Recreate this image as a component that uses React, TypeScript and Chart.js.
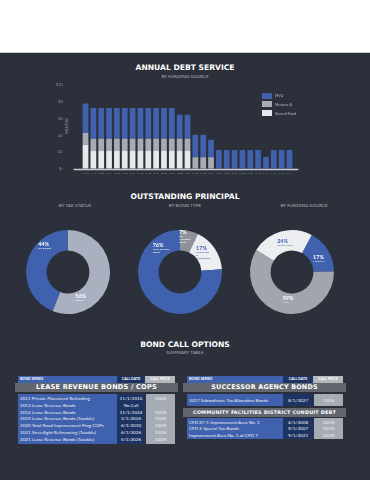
import React, { useEffect, useRef } from "react";
import { Chart, registerables } from "chart.js";

Chart.register(...registerables);

// ---------- DATA ----------
const fiscalYears = [
  "FY18", "FY19", "FY20", "FY21", "FY22", "FY23", "FY24", "FY25", "FY26",
  "FY27", "FY28", "FY29", "FY30", "FY31", "FY32", "FY33", "FY34", "FY35",
  "FY36", "FY37", "FY38", "FY39", "FY40", "FY41", "FY42", "FY43", "FY44",
];
const generalFund = [
  2.9, 2.15, 2.15, 2.15, 2.15, 2.15, 2.15, 2.15, 2.15, 2.15, 2.15, 2.15, 2.15, 2.15,
  0, 0, 0, 0, 0, 0, 0, 0, 0, 0, 0, 0, 0,
];
const measureA = [
  1.4, 1.45, 1.45, 1.45, 1.45, 1.45, 1.45, 1.45, 1.45, 1.45, 1.45, 1.45, 1.45, 1.45,
  1.4, 1.4, 1.4, 0, 0, 0, 0, 0, 0, 0, 0, 0, 0,
];
const mvu = [
  3.5, 3.65, 3.65, 3.65, 3.65, 3.65, 3.65, 3.65, 3.65, 3.65, 3.65, 3.65, 2.85, 2.85,
  2.68, 2.68, 2.08, 2.25, 2.25, 2.25, 2.25, 2.25, 2.25, 1.43, 2.25, 2.25, 2.25,
];
const seriesNames = ["MVU", "Measure A", "General Fund"];
const yTickLabels = ["$-", "$2", "$4", "$6", "$8", "$10"];

const taxStatusLabels = ["Taxable", "Tax Exempt"];
const taxStatusValues = [56, 44];
const bondTypeLabels = ["Tax Allocation Bonds", "Certificates of Participation", "Lease Revenue Bonds"];
const bondTypeValues = [7, 17, 76];
const fundingLabels = ["Measure A", "MVU", "General Fund"];
const fundingValues = [17, 59, 24];

const leaseSeries = [
  "2011 Private Placement Refunding",
  "2013 Lease Revenue Bonds",
  "2014 Lease Revenue Bonds",
  "2019 Lease Revenue Bonds (Taxable)",
  "2020 Total Road Improvement Prog COPs",
  "2021 Streetlight Refinancing (Taxable)",
  "2021 Lease Revenue Bonds (Taxable)",
];
const leaseCallDates = ["11/1/2016", "No Call", "11/1/2024", "5/1/2026", "6/1/2030", "6/1/2026", "5/1/2026"];
const leaseCallPrices = ["100%", "", "100%", "100%", "100%", "102%", "100%"];
const saSeries = ["2017 Subordinate Tax Allocation Bonds"];
const saCallDates = ["8/1/2027"];
const saCallPrices = ["100%"];
const cfdSeries = ["CFD 87-1 Improvement Area No. 1", "CFD 5 Special Tax Bonds", "Improvement Area No. 1 of CFD 7"];
const cfdCallDates = ["4/1/2008", "9/1/2007", "9/1/2021"];
const cfdCallPrices = ["103%", "103%", "103%"];

// ---------- STYLE ----------
const BG = "#2b303b";
const BLUE = "#4061ad";
const GRAY = "#a7abb3";
const WHITE = "#e7e8eb";
const NAVY = "#1d3463";
const SECTION = "#61666f";
const TITLE_FONT = "'DejaVu Sans', sans-serif";
const BODY_FONT = "Lato, 'Open Sans', sans-serif";

const baselinePlugin = {
  id: "baseline",
  afterDatasetsDraw(chart: any) {
    const { ctx, chartArea } = chart;
    const y = chart.scales.y.getPixelForValue(0);
    ctx.save();
    ctx.strokeStyle = "#c9ccd2";
    ctx.lineWidth = 1.5;
    ctx.beginPath();
    ctx.moveTo(chartArea.left - 8, y + 0.5);
    ctx.lineTo(chartArea.right + 5, y + 0.5);
    ctx.stroke();
    ctx.restore();
  },
};

function wrap(text: string, max: number): string[] {
  const words = text.split(" ");
  const lines: string[] = [];
  let cur = "";
  words.forEach((w) => {
    if (cur && (cur + " " + w).length > max) {
      lines.push(cur);
      cur = w;
    } else cur = cur ? cur + " " + w : w;
  });
  if (cur) lines.push(cur);
  return lines;
}

const donutLabelPlugin = {
  id: "donutLabels",
  afterDatasetsDraw(chart: any, _args: any, opts: any) {
    const ctx = chart.ctx;
    const meta = chart.getDatasetMeta(0);
    const ds = chart.data.datasets[0];
    meta.data.forEach((arc: any, i: number) => {
      const p = arc.getProps(["startAngle", "endAngle", "x", "y"], true);
      const a = p.startAngle + (p.endAngle - p.startAngle) * opts.fracs[i];
      const r = opts.radii[i];
      const px = p.x + r * Math.cos(a);
      const py = p.y + r * Math.sin(a);
      const lines = wrap(String(chart.data.labels[i]), opts.wrap || 14);
      ctx.save();
      ctx.fillStyle = opts.colors[i];
      ctx.textAlign = "left";
      ctx.textBaseline = "middle";
      ctx.font = "bold 5.5px " + BODY_FONT;
      const top = py - (5 + lines.length * 3) / 2;
      const left = px - 7;
      ctx.fillText(ds.data[i] + "%", left, top + 2.5);
      ctx.font = "2.6px " + BODY_FONT;
      lines.forEach((l, k) => ctx.fillText(l, left, top + 6.3 + k * 3));
      ctx.restore();
    });
  },
};

function BarChart() {
  const ref = useRef<HTMLCanvasElement>(null);
  useEffect(() => {
    const chart = new Chart(ref.current!, {
      type: "bar",
      data: {
        labels: fiscalYears,
        datasets: [
          { label: seriesNames[2], data: generalFund, backgroundColor: WHITE, barPercentage: 0.73, categoryPercentage: 1 },
          { label: seriesNames[1], data: measureA, backgroundColor: GRAY, barPercentage: 0.73, categoryPercentage: 1 },
          { label: seriesNames[0], data: mvu, backgroundColor: BLUE, barPercentage: 0.73, categoryPercentage: 1 },
        ],
      },
      options: {
        animation: false,
        responsive: false,
        maintainAspectRatio: false,
        layout: { padding: { top: 5, right: 76.6, left: 0, bottom: 0 } },
        plugins: { legend: { display: false }, tooltip: { enabled: false } },
        scales: {
          x: {
            stacked: true,
            grid: { display: false, drawTicks: false },
            border: { display: false },
            ticks: { font: { size: 2.5, family: BODY_FONT }, color: "#8d939d", maxRotation: 0, minRotation: 0, autoSkip: false, padding: 3 },
            afterFit: (s: any) => { s.height = 11; },
          },
          y: {
            stacked: true,
            min: 0,
            max: 10,
            grid: { display: true, drawOnChartArea: false, drawTicks: true, tickLength: 19, color: "rgba(0,0,0,0)" },
            border: { display: false },
            ticks: {
              stepSize: 2,
              callback: (v: any) => yTickLabels[Math.round(Number(v) / 2)],
              font: { size: 3.8, family: BODY_FONT },
              color: "#8d939d",
              padding: 0,
            },
            afterFit: (s: any) => { s.width = 81.6; },
          },
        },
      } as any,
      plugins: [baselinePlugin],
    });
    return () => chart.destroy();
  }, []);
  return (
    <canvas ref={ref} width={370} height={100}
      style={{ position: "absolute", left: 0, top: 80, width: 370, height: 100 }} />
  );
}

function Donut(props: {
  cx: number; labels: string[]; values: number[]; colors: string[]; rotation: number;
  fracs: number[]; radii: number[]; textColors: string[];
}) {
  const ref = useRef<HTMLCanvasElement>(null);
  useEffect(() => {
    const chart = new Chart(ref.current!, {
      type: "doughnut",
      data: {
        labels: props.labels,
        datasets: [{ data: props.values, backgroundColor: props.colors, borderWidth: 0 }],
      },
      options: {
        animation: false,
        responsive: false,
        maintainAspectRatio: false,
        rotation: props.rotation,
        cutout: "51%",
        layout: { padding: 13 },
        plugins: {
          legend: { display: false },
          tooltip: { enabled: false },
          donutLabels: { fracs: props.fracs, radii: props.radii, colors: props.textColors, wrap: 13 },
        },
      } as any,
      plugins: [donutLabelPlugin],
    });
    return () => chart.destroy();
  }, []);
  return (
    <canvas ref={ref} width={110} height={110}
      style={{ position: "absolute", left: props.cx - 55, top: 272 - 55, width: 110, height: 110 }} />
  );
}

function Text(props: { x: number; y: number; w: number; size: number; bold?: boolean; color: string; children: any; font?: string; ls?: number }) {
  return (
    <div style={{
      position: "absolute", left: props.x, top: props.y, width: props.w, textAlign: "center",
      fontSize: props.size, lineHeight: 1, fontWeight: props.bold ? 700 : 400, color: props.color,
      fontFamily: props.font || TITLE_FONT, whiteSpace: "nowrap", letterSpacing: props.ls || 0,
    }}>{props.children}</div>
  );
}

function HeaderRow(props: { x: number; y: number; cols: number[] }) {
  const [a, b, c] = props.cols;
  const base: any = { height: 6.5, fontSize: 3.6, fontWeight: 700, color: "#fff", fontFamily: BODY_FONT, lineHeight: "6.5px", whiteSpace: "nowrap" };
  return (
    <div style={{ position: "absolute", left: props.x, top: props.y, display: "flex" }}>
      <div style={{ ...base, width: a, background: BLUE, paddingLeft: 2, boxSizing: "border-box" }}>BOND SERIES</div>
      <div style={{ ...base, width: b, background: NAVY, textAlign: "center" }}>CALL DATE</div>
      <div style={{ ...base, width: c, background: "#b4b7bd", textAlign: "center" }}>CALL PRICE</div>
    </div>
  );
}

function Section(props: { x: number; y: number; w: number; h: number; size: number; children: any }) {
  return (
    <div style={{
      position: "absolute", left: props.x, top: props.y, width: props.w, height: props.h, background: SECTION,
      color: "#fff", fontFamily: TITLE_FONT, fontWeight: 700, fontSize: props.size, lineHeight: props.h + "px",
      textAlign: "center", whiteSpace: "nowrap", letterSpacing: 0.2,
    }}>{props.children}</div>
  );
}

function Rows(props: { x: number; y: number; cols: number[]; rowH: number; series: string[]; dates: string[]; prices: string[] }) {
  const [a, b, c] = props.cols;
  const cell: any = { height: props.rowH, lineHeight: props.rowH + "px", fontSize: 4.6, color: "#eef0f5", fontFamily: BODY_FONT, whiteSpace: "nowrap" };
  return (
    <div style={{ position: "absolute", left: props.x, top: props.y, display: "flex" }}>
      <div style={{ width: a, background: BLUE, paddingLeft: 2, paddingTop: 1, paddingBottom: 1, boxSizing: "border-box" }}>
        {props.series.map((s, i) => <div key={i} style={cell}>{s}</div>)}
      </div>
      <div style={{ width: b, background: NAVY, paddingTop: 1, paddingBottom: 1, textAlign: "center" }}>
        {props.dates.map((s, i) => <div key={i} style={cell}>{s}</div>)}
      </div>
      <div style={{ width: c, background: GRAY, paddingTop: 1, paddingBottom: 1, textAlign: "center", marginLeft: 1 }}>
        {props.prices.map((s, i) => <div key={i} style={cell}>{s}</div>)}
      </div>
    </div>
  );
}

export default function App() {
  useEffect(() => { document.body.style.margin = "0"; }, []);
  const legendColors = [BLUE, GRAY, WHITE];
  return (
    <div style={{ position: "fixed", left: 0, top: 0, width: 370, height: 480, background: "#fff", overflow: "hidden" }}>
      <div style={{ position: "absolute", left: 0, top: 52, width: 370, height: 428, background: BG, borderTop: "1px solid #c8cad0" }} />

      <Text x={85} y={64} w={200} size={7.6} bold color="#ffffff">ANNUAL DEBT SERVICE</Text>
      <Text x={85} y={73.5} w={200} size={4.6} color="#aeb3bd" font={BODY_FONT}>BY FUNDING SOURCE</Text>
      <div style={{
        position: "absolute", left: 66.5, top: 126, transform: "translate(-50%,-50%) rotate(-90deg)",
        fontSize: 3.4, color: "#9aa0aa", fontFamily: BODY_FONT, whiteSpace: "nowrap",
      }}>MILLIONS</div>
      <BarChart />
      {seriesNames.map((n, i) => (
        <div key={n} style={{ position: "absolute", left: 262, top: 92.5 + i * 8.8, display: "flex", alignItems: "center" }}>
          <div style={{ width: 10, height: 6, background: legendColors[i] }} />
          <div style={{ marginLeft: 3, fontSize: 3.6, color: "#b9bec7", fontFamily: BODY_FONT, whiteSpace: "nowrap" }}>{n}</div>
        </div>
      ))}

      <Text x={85} y={192.5} w={200} size={7.6} bold color="#ffffff">OUTSTANDING PRINCIPAL</Text>
      <Text x={25} y={203} w={100} size={4.6} color="#aeb3bd" font={BODY_FONT}>BY TAX STATUS</Text>
      <Text x={135} y={203} w={100} size={4.6} color="#aeb3bd" font={BODY_FONT}>BY BOND TYPE</Text>
      <Text x={254} y={203} w={100} size={4.6} color="#aeb3bd" font={BODY_FONT}>BY FUNDING SOURCE</Text>

      <Donut cx={68} labels={taxStatusLabels} values={taxStatusValues} colors={["#aab0bf", BLUE]} rotation={0}
        fracs={[0.75, 0.74]} radii={[29.5, 34.7]} textColors={["#ffffff", "#ffffff"]} />
      <Donut cx={180} labels={bondTypeLabels} values={bondTypeValues} colors={["#8f9399", "#eceef1", BLUE]} rotation={0}
        fracs={[0.39, 0.41, 0.85]} radii={[35.5, 30, 31]} textColors={["#ffffff", BLUE, "#ffffff"]} />
      <Donut cx={292} labels={fundingLabels} values={fundingValues} colors={[BLUE, "#a2a5ab", "#eceef1"]} rotation={28}
        fracs={[0.6, 0.45, 0.5]} radii={[31, 28, 30]} textColors={["#ffffff", "#ffffff", BLUE]} />

      <Text x={85} y={340.5} w={200} size={7.6} bold color="#ffffff">BOND CALL OPTIONS</Text>
      <Text x={85} y={350} w={200} size={4.6} color="#aeb3bd" font={BODY_FONT}>SUMMARY TABLE</Text>

      <HeaderRow x={18} y={376} cols={[99, 28, 30]} />
      <Section x={15} y={383.3} w={163} h={9} size={6.6}>LEASE REVENUE BONDS / COPS</Section>
      <Rows x={18} y={394} cols={[99, 28, 29]} rowH={6.8} series={leaseSeries} dates={leaseCallDates} prices={leaseCallPrices} />

      <HeaderRow x={187} y={376} cols={[96, 30, 30]} />
      <Section x={183} y={383.3} w={163} h={9} size={6.4}>SUCCESSOR AGENCY BONDS</Section>
      <Rows x={187} y={393.5} cols={[96, 30, 29]} rowH={10.5} series={saSeries} dates={saCallDates} prices={saCallPrices} />
      <Section x={183} y={407.7} w={163} h={9.6} size={4.9}>COMMUNITY FACILITIES DISTRICT CONDUIT DEBT</Section>
      <Rows x={187} y={418} cols={[96, 30, 29]} rowH={6.4} series={cfdSeries} dates={cfdCallDates} prices={cfdCallPrices} />
    </div>
  );
}
